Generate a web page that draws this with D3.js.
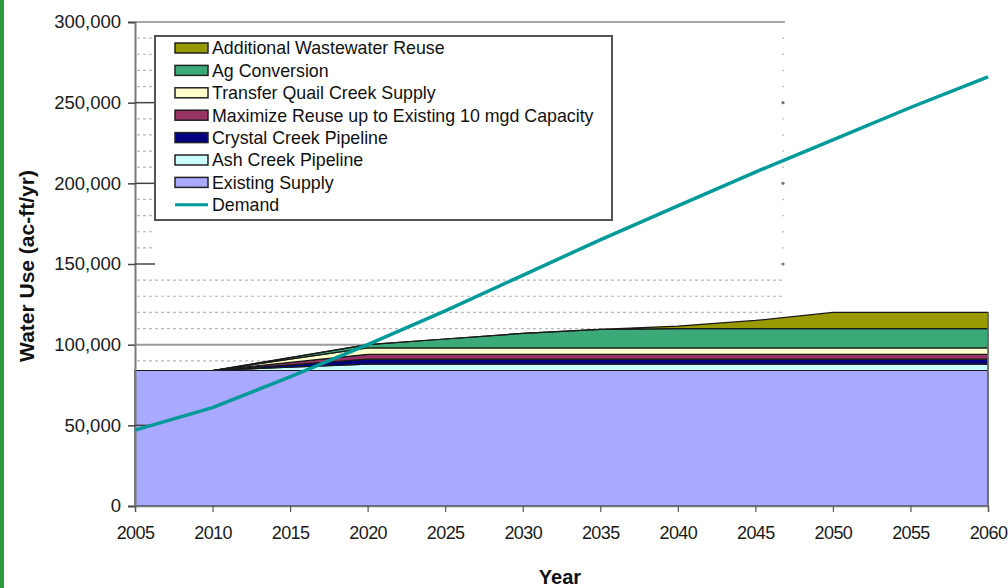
<!DOCTYPE html>
<html>
<head>
<meta charset="utf-8">
<script src="https://cdn.jsdelivr.net/npm/d3@7"></script>
<style>
  body { margin: 0; background: #fff; }
  svg { display: block; font-family: "Liberation Sans", Arial, sans-serif; }
</style>
</head>
<body>
<svg id="chart" width="1008" height="588"></svg>
<script>
// Supply sources and projected demand, acre-feet per year
const years = [2005, 2010, 2015, 2020, 2025, 2030, 2035, 2040, 2045, 2050, 2055, 2060];
const existingSupply  = [84000, 84000, 84000, 84000, 84000, 84000, 84000, 84000, 84000, 84000, 84000, 84000];
const ashCreek        = [0, 0, 2000, 4000, 4000, 4000, 4000, 4000, 4000, 4000, 4000, 4000];
const crystalCreek    = [0, 0, 1500, 3000, 3000, 3000, 3000, 3000, 3000, 3000, 3000, 3000];
const maximizeReuse   = [0, 0, 1500, 3000, 3000, 3000, 3000, 3000, 3000, 3000, 3000, 3000];
const quailCreek      = [0, 0, 2000, 4000, 4000, 4000, 4000, 4000, 4000, 4000, 4000, 4000];
const agConversion    = [0, 0, 1000, 2000, 5500, 9000, 11500, 12000, 12000, 12000, 12000, 12000];
const wastewaterReuse = [0, 0, 0, 0, 0, 0, 0, 1500, 5000, 10000, 10000, 10000];
const demand = [47000, 61000, 80000, 100000, 121000, 143000, 165000, 186000, 207000, 227000, 247000, 266000];

const yTicks = [0, 50000, 100000, 150000, 200000, 250000, 300000];
const xTicks = years;

const seriesNames = [
  "Existing Supply", "Ash Creek Pipeline", "Crystal Creek Pipeline",
  "Maximize Reuse up to Existing 10 mgd Capacity", "Transfer Quail Creek Supply",
  "Ag Conversion", "Additional Wastewater Reuse"
];
const seriesValues = [existingSupply, ashCreek, crystalCreek, maximizeReuse, quailCreek, agConversion, wastewaterReuse];
const seriesColors = ["#a9a9ff", "#ccffff", "#000080", "#993366", "#ffffcc", "#3caa78", "#999900"];
const demandColor = "#009a9a";

const table = years.map((yr, i) => {
  const row = { year: yr };
  seriesNames.forEach((n, k) => { row[n] = seriesValues[k][i]; });
  return row;
});

const svg = d3.select("#chart");
const plotLeft = 135, plotRight = 988, plotTop = 22, plotBottom = 506;

const x = d3.scaleLinear().domain([2005, 2060]).range([plotLeft, plotRight]);
const y = d3.scaleLinear().domain([0, 300000]).range([plotBottom, plotTop]);

// page frame strip
svg.append("rect").attr("x", 0).attr("y", 0).attr("width", 4).attr("height", 588).attr("fill", "#2b9b3d");

// minor grid (every 10,000)
const gridEnd = 785;
const minor = d3.range(10000, 300000, 10000).filter(v => v % 50000 !== 0);
minor.forEach(v => {
  const full = v < 150000;
  svg.append("line")
    .attr("x1", plotLeft + 2).attr("x2", full ? gridEnd : plotLeft + 20)
    .attr("y1", y(v)).attr("y2", y(v))
    .attr("stroke", "#b8b8b8").attr("stroke-width", 1.2)
    .attr("stroke-dasharray", "3,3");
  if (!full) {
    svg.append("circle").attr("cx", gridEnd - 2).attr("cy", y(v)).attr("r", 0.9).attr("fill", "#bbb");
  }
});
[150000, 200000, 250000].forEach(v => {
  svg.append("circle").attr("cx", gridEnd - 2).attr("cy", y(v)).attr("r", 1.6).attr("fill", "#777");
});

// major grid lines
svg.append("line").attr("x1", plotLeft).attr("x2", plotRight).attr("y1", y(100000)).attr("y2", y(100000))
  .attr("stroke", "#9a9a9a").attr("stroke-width", 2);
svg.append("line").attr("x1", plotLeft).attr("x2", gridEnd).attr("y1", y(300000)).attr("y2", y(300000))
  .attr("stroke", "#a8a8a8").attr("stroke-width", 2);

// stacked supply areas
const stack = d3.stack().keys(seriesNames);
const layers = stack(table);
const area = d3.area()
  .x(d => x(d.data.year))
  .y0(d => y(d[0]))
  .y1(d => y(d[1]));

svg.append("g").selectAll("path")
  .data(layers)
  .join("path")
  .attr("d", area)
  .attr("fill", (d, i) => seriesColors[i])
  .attr("stroke", "#1a1a1a")
  .attr("stroke-width", 1.2)
  .attr("stroke-linejoin", "round");

// right edge of the area block
svg.append("line").attr("x1", plotRight).attr("x2", plotRight)
  .attr("y1", y(d3.sum(seriesValues, s => s[s.length - 1]))).attr("y2", plotBottom)
  .attr("stroke", "#777").attr("stroke-width", 1.5);

// y axis
const yAxis = d3.axisLeft(y).tickValues(yTicks).tickFormat(d3.format(",")).tickSize(7).tickPadding(7);
const gy = svg.append("g").attr("transform", `translate(${plotLeft},0)`).call(yAxis);
gy.select(".domain").attr("stroke", "#7a7a7a").attr("stroke-width", 2);
gy.selectAll(".tick line").attr("stroke", "#444").attr("stroke-width", 1.5);
gy.selectAll(".tick text").attr("font-size", 18.5).attr("fill", "#1a1a1a")
  .attr("font-family", "'Liberation Sans', Arial, sans-serif");
// inner tick stubs
[50000, 150000, 200000, 250000].forEach(v => {
  svg.append("line").attr("x1", plotLeft).attr("x2", plotLeft + 20).attr("y1", y(v)).attr("y2", y(v))
    .attr("stroke", "#444").attr("stroke-width", 1.5);
});

// x axis
const xAxis = d3.axisBottom(x).tickValues(xTicks).tickFormat(d3.format("d")).tickSize(6).tickPadding(14);
const gx = svg.append("g").attr("transform", `translate(0,${plotBottom})`).call(xAxis);
gx.select(".domain").attr("stroke", "#777").attr("stroke-width", 1.5);
gx.selectAll(".tick line").attr("stroke", "#555").attr("stroke-width", 1.2);
gx.selectAll(".tick text").attr("font-size", 18).attr("letter-spacing", "-0.6px").attr("fill", "#1a1a1a")
  .attr("font-family", "'Liberation Sans', Arial, sans-serif");

// demand line
const line = d3.line().x((d, i) => x(years[i])).y(d => y(d));
svg.append("path").datum(demand)
  .attr("d", line)
  .attr("fill", "none")
  .attr("stroke", demandColor)
  .attr("stroke-width", 3.5)
  .attr("stroke-linejoin", "round");

// axis titles
svg.append("text").attr("transform", "translate(34,266) rotate(-90)")
  .attr("text-anchor", "middle").attr("font-size", 21).attr("font-weight", "bold").attr("fill", "#111")
  .text("Water Use (ac-ft/yr)");
svg.append("text").attr("x", 560).attr("y", 584)
  .attr("text-anchor", "middle").attr("font-size", 20).attr("font-weight", "bold").attr("fill", "#111")
  .text("Year");

// legend
const lg = svg.append("g");
lg.append("rect").attr("x", 155).attr("y", 36).attr("width", 457).attr("height", 184)
  .attr("fill", "#fff").attr("stroke", "#555").attr("stroke-width", 2);
const legendItems = [
  { name: "Additional Wastewater Reuse", color: seriesColors[6] },
  { name: "Ag Conversion", color: seriesColors[5] },
  { name: "Transfer Quail Creek Supply", color: seriesColors[4] },
  { name: "Maximize Reuse up to Existing 10 mgd Capacity", color: seriesColors[3] },
  { name: "Crystal Creek Pipeline", color: seriesColors[2] },
  { name: "Ash Creek Pipeline", color: seriesColors[1] },
  { name: "Existing Supply", color: seriesColors[0] },
  { name: "Demand", line: true }
];
legendItems.forEach((it, i) => {
  const cy = 48 + i * 22.4;
  if (it.line) {
    lg.append("line").attr("x1", 175).attr("x2", 208).attr("y1", cy).attr("y2", cy)
      .attr("stroke", demandColor).attr("stroke-width", 3);
  } else {
    lg.append("rect").attr("x", 175).attr("y", cy - 5).attr("width", 33).attr("height", 10)
      .attr("fill", it.color).attr("stroke", "#222").attr("stroke-width", 1.5);
  }
  lg.append("text").attr("x", 212).attr("y", cy).attr("dy", "0.36em")
    .attr("font-size", 17.8).attr("fill", "#111").text(it.name);
});
</script>
</body>
</html>
